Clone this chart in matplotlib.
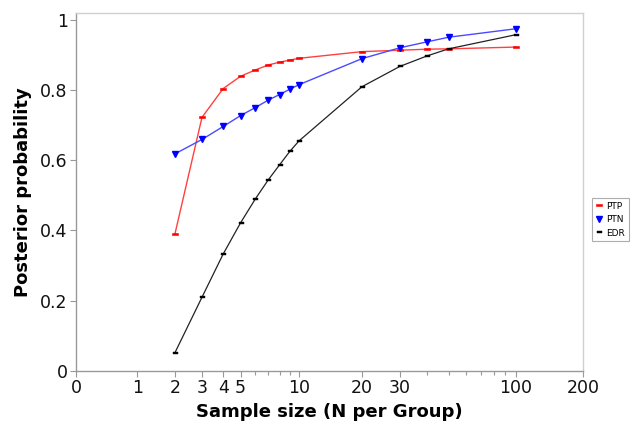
import numpy as np
import matplotlib
matplotlib.use("Agg")
import matplotlib.pyplot as plt
from matplotlib.ticker import FixedLocator, FixedFormatter

# Sample sizes (N per group) and posterior probabilities
n_ptp = [2, 3, 4, 5, 6, 7, 8, 9, 10, 20, 30, 40, 50, 100]
ptp = [0.390, 0.722, 0.804, 0.839, 0.857, 0.871, 0.879, 0.885, 0.890,
       0.909, 0.913, 0.916, 0.917, 0.922]

n_ptn = [2, 3, 4, 5, 6, 7, 8, 9, 10, 20, 30, 40, 50, 100]
ptn = [0.618, 0.659, 0.696, 0.727, 0.750, 0.771, 0.787, 0.802, 0.815,
       0.889, 0.920, 0.937, 0.950, 0.974]

n_edr = [2, 3, 4, 5, 6, 7, 8, 9, 10, 20, 30, 40, 50, 100]
edr = [0.052, 0.210, 0.333, 0.422, 0.490, 0.544, 0.587, 0.625, 0.655,
       0.809, 0.867, 0.897, 0.917, 0.957]

x_ticks = [0, 1, 2, 3, 4, 5, 10, 20, 30, 100, 200]
x_tick_labels = ["0", "1", "2", "3", "4", "5", "10", "20", "30", "100", "200"]
x_minor = [6, 7, 8, 9, 40, 50, 60, 70, 80, 90]
y_ticks = [0, 0.2, 0.4, 0.6, 0.8, 1.0]
y_tick_labels = ["0", "0.2", "0.4", "0.6", "0.8", "1"]

# Shifted-log axis so that N = 0 can be shown
C = 1.15


def fwd(x):
    x = np.asarray(x, dtype=float)
    return np.log((np.maximum(x, -C + 1e-9) + C) / C)


def inv(y):
    y = np.asarray(y, dtype=float)
    return C * np.exp(y) - C


# flat rectangle marker
rect = [(-1, -0.5), (1, -0.5), (1, 0.5), (-1, 0.5), (-1, -0.5)]

fig = plt.figure(figsize=(6.31, 4.22), dpi=100)
ax = fig.add_axes([76 / 631, 1 - 371 / 422, (583 - 76) / 631, (371 - 13) / 422])

ax.set_xscale("function", functions=(fwd, inv))
ax.set_xlim(0, 200)
ax.set_ylim(0, 1.019)

ax.plot(n_ptp, ptp, color="#ff4040", lw=1.0, marker=rect, ms=4.3,
        mfc="#ff0000", mec="#ff0000", mew=0.4, label="PTP", zorder=3)
ax.plot(n_ptn, ptn, color="#4a4aff", lw=1.0, marker="v", ms=4.2,
        mfc="#0000ff", mec="#0000ff", label="PTN", zorder=3)
ax.plot(n_edr, edr, color="#222222", lw=0.9, marker=rect, ms=3.6, mew=0.3,
        mfc="#000000", mec="#000000", label="EDR", zorder=3)

ax.xaxis.set_major_locator(FixedLocator(x_ticks))
ax.xaxis.set_major_formatter(FixedFormatter(x_tick_labels))
ax.xaxis.set_minor_locator(FixedLocator(x_minor))
ax.yaxis.set_major_locator(FixedLocator(y_ticks))
ax.yaxis.set_major_formatter(FixedFormatter(y_tick_labels))

ax.tick_params(axis="both", which="major", labelsize=12.5, length=4,
               width=0.8, color="#999999", labelcolor="#111111", pad=2)
ax.tick_params(axis="x", which="minor", length=3, width=0.8, color="#999999")

for side in ("left", "bottom"):
    ax.spines[side].set_color("#999999")
    ax.spines[side].set_linewidth(1.0)
for side in ("top", "right"):
    ax.spines[side].set_color("#d0d0d0")
    ax.spines[side].set_linewidth(1.0)

ax.set_xlabel("Sample size (N per Group)", fontsize=13, fontweight="bold",
              labelpad=4)
ax.set_ylabel("Posterior probability", fontsize=13, fontweight="bold",
              labelpad=6)

leg = fig.legend(loc="upper left", bbox_to_anchor=(592 / 631, 1 - 198 / 422),
                 fontsize=6.5, frameon=True, fancybox=False, handlelength=0.8,
                 handletextpad=0.4, borderpad=0.4, labelspacing=0.5,
                 borderaxespad=0, markerscale=1.0)
leg.get_frame().set_edgecolor("#999999")
leg.get_frame().set_linewidth(0.8)
for line in leg.get_lines():
    line.set_linestyle("none")

fig.savefig("out.png", dpi=100)
